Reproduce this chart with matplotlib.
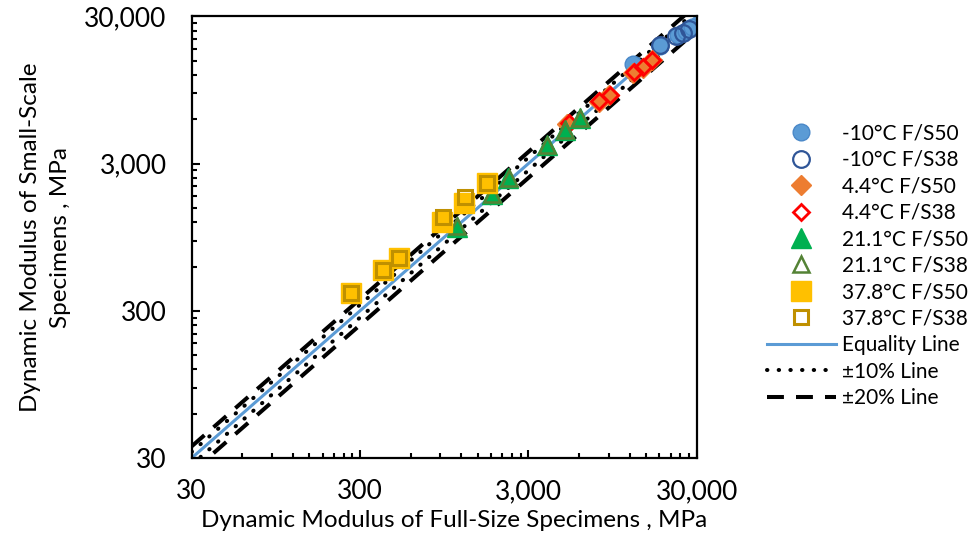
import numpy as np
import matplotlib
matplotlib.use("Agg")
import matplotlib.pyplot as plt
from matplotlib.ticker import FixedLocator, FuncFormatter, NullFormatter
from matplotlib.lines import Line2D

plt.rcParams['font.family'] = ['Lato', 'DejaVu Sans']

# full-size (x) vs small-scale (y) dynamic modulus, MPa
c50_x = [12560, 18180, 23260, 25950, 28170]
c50_y = [14250, 18880, 22430, 23870, 25420]
c38_x = [18300, 22630, 24900, 27030]
c38_y = [19170, 22090, 23300, 24640]

d50_x = [5090, 7840, 9050, 12620, 14310, 16230]
d50_y = [5570, 7860, 8770, 12480, 13490, 15170]
d38_x = [5200, 7900, 9150, 12700, 14400, 16350]
d38_y = [5650, 7950, 8850, 12600, 13600, 15300]

t50_x = [1127, 1818, 2282, 3892, 4957, 6087]
t50_y = [1118, 1865, 2383, 4013, 5075, 6094]
t38_x = [1130, 1825, 2290, 3900, 4970, 6100]
t38_y = [1125, 1880, 2400, 4040, 5110, 6130]

s50_x = [264, 409, 509, 925, 1250, 1698]
s50_y = [398, 568, 682, 1209, 1627, 2205]
s38_x = [264, 409, 509, 930, 1255, 1698]
s38_y = [398, 568, 682, 1296, 1770, 2205]

labels = ["-10°C F/S50", "-10°C F/S38", "4.4°C F/S50", "4.4°C F/S38",
          "21.1°C F/S50", "21.1°C F/S38", "37.8°C F/S50", "37.8°C F/S38",
          "Equality Line", "±10% Line", "±20% Line"]

fig = plt.figure(figsize=(9.72, 5.39), dpi=100)
ax = fig.add_axes([0.1972, 0.1503, 0.5195, 0.8191])

xl = np.array([30, 30000])
dash = dict(color='k', lw=2.9, ls=(0, (4.2, 3.0)))
dot = dict(color='k', lw=2.9, ls=(0, (0.1, 2.8)), dash_capstyle='round')
ax.plot(xl, xl * 1.2, **dash)
ax.plot(xl, xl * 0.8, **dash)
ax.plot(xl, xl * 1.1, **dot)
ax.plot(xl, xl * 0.9, **dot)
ax.plot(xl, xl, color='#5B9BD5', lw=2.2)

h = []
h.append(ax.plot(c50_x, c50_y, 'o', ms=12, mfc='#5B9BD5', mec='#4A88C8', mew=1, ls='none')[0])
h.append(ax.plot(c38_x, c38_y, 'o', ms=12, mfc='none', mec='#2F5597', mew=1.6, ls='none')[0])
h.append(ax.plot(d50_x, d50_y, 'D', ms=10, mfc='#ED7D31', mec='#ED7D31', mew=1, ls='none')[0])
h.append(ax.plot(d38_x, d38_y, 'D', ms=8, mfc='none', mec='#FF0000', mew=2, ls='none')[0])
h.append(ax.plot(t50_x, t50_y, '^', ms=14, mfc='#00B050', mec='#00B050', mew=1, ls='none')[0])
h.append(ax.plot(t38_x, t38_y, '^', ms=11, mfc='none', mec='#548235', mew=1.8, ls='none')[0])
h.append(ax.plot(s50_x, s50_y, 's', ms=14, mfc='#FFC000', mec='#FFC000', mew=1, ls='none')[0])
h.append(ax.plot(s38_x, s38_y, 's', ms=10, mfc='none', mec='#BF9000', mew=2.2, ls='none')[0])
h.append(Line2D([], [], color='#5B9BD5', lw=2.2))
h.append(Line2D([], [], **dot))
h.append(Line2D([], [], **dash))

ax.set_xscale('log')
ax.set_yscale('log')
ax.set_xlim(30, 30000)
ax.set_ylim(30, 30000)
major = [30, 300, 3000, 30000]
minor = [30 * 10**d * k for d in range(3) for k in range(2, 10)]
fmt = FuncFormatter(lambda v, p: f"{v:,.0f}")
for axis in (ax.xaxis, ax.yaxis):
    axis.set_major_locator(FixedLocator(major))
    axis.set_minor_locator(FixedLocator(minor))
    axis.set_major_formatter(fmt)
    axis.set_minor_formatter(NullFormatter())
ax.tick_params(which='both', direction='in', width=1.5, labelsize=19, colors='k')
ax.tick_params(which='major', length=6)
ax.tick_params(which='minor', length=3.5)
ax.tick_params(axis='x', pad=15)
ax.tick_params(axis='y', pad=18)
for s in ax.spines.values():
    s.set_linewidth(1.6)

ax.set_xlabel("Dynamic Modulus of Full-Size Specimens , MPa", fontsize=17.5)
ax.set_ylabel("Dynamic Modulus of Small-Scale\nSpecimens , MPa", fontsize=17.5, linespacing=1.55)
ax.xaxis.set_label_coords(0.5195, -0.118)
ax.yaxis.set_label_coords(-0.238, 0.5)

ax.legend(h, labels, loc='upper left', bbox_to_anchor=(0.789, 0.771),
          bbox_transform=fig.transFigure, frameon=False, fontsize=15,
          handlelength=3.3, labelspacing=0.31, handletextpad=0.3, borderpad=0,
          borderaxespad=0)

fig.savefig("out.png", dpi=100)
